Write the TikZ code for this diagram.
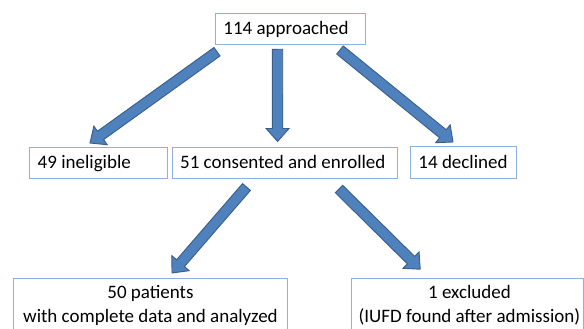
\documentclass[tikz,border=0pt]{standalone}
\usepackage{fontspec}
\setmainfont{Carlito}
\usetikzlibrary{calc}
\definecolor{boxline}{HTML}{8DB0DC}
\definecolor{arrfill}{HTML}{4F81BD}
\definecolor{arrline}{HTML}{385D8A}
\newcommand\blockarrow[2]{%
  \path let \p1=(#1), \p2=(#2), \n1={atan2(\y2-\y1,\x2-\x1)}, \n2={veclen(\x2-\x1,\y2-\y1)} in
    \pgfextra{\xdef\baang{\n1}\xdef\balen{\n2}\xdef\bax{\x1}\xdef\bay{\y1}};
  \pgfmathsetmacro\bal{\balen}%
  \pgfmathsetmacro\bab{\bal-13}%
  \begin{scope}[shift={(\bax,\bay)}, rotate=\baang]
    \filldraw[blockarr] (0pt,-5.2pt) -- (\bab pt,-5.2pt) -- (\bab pt,-11.5pt) -- (\bal pt,0pt)
      -- (\bab pt,11.5pt) -- (\bab pt,5.2pt) -- (0pt,5.2pt) -- cycle;
  \end{scope}}
\newcommand\lefttext[2]{\makebox[#1][l]{#2}}
\tikzset{
  box/.style={draw=boxline, line width=0.9pt, fill=white, inner xsep=8pt, inner ysep=0pt,
    text height=21.5pt, text depth=10pt, anchor=north west,
    font=\fontsize{19}{24}\selectfont},
  bigbox/.style={draw=boxline, line width=0.9pt, fill=white, inner sep=0pt,
    text height=20.5pt, text depth=60pt, anchor=north west,
    font=\fontsize{19}{24}\selectfont},
  blockarr/.style={fill=arrfill, draw=arrline, line width=0.9pt, line join=miter}
}
\begin{document}
\begin{tikzpicture}[x=1pt,y=-1pt]
\useasboundingbox[fill=white] (0,0) rectangle (584,329);
% boxes
\node[box] (top) at (215,13) {\lefttext{134pt}{114 approached}};
\node[box] (inel) at (29.3,146.7) {\lefttext{122pt}{49 ineligible}};
\node[box] (cons) at (171.7,146.7) {\lefttext{209pt}{51 consented and enrolled}};
\node[box] (decl) at (410,146.3) {\lefttext{90.3pt}{14 declined}};
\node[bigbox, minimum width=274.6pt] (pat) at (12.7,277.5)
  {\begin{tabular}[t]{@{}c@{}}50 patients\\with complete data and analyzed\end{tabular}};
\node[bigbox, minimum width=232.6pt] (excl) at (350.7,277.5)
  {\begin{tabular}[t]{@{\hspace*{4pt}}c@{}}1 excluded\\(IUFD found after admission)\end{tabular}};
% connector end points
\coordinate (s1) at (217,51.7);  \coordinate (e1) at (90,143);
\coordinate (s2) at (277.5,49.3); \coordinate (e2) at (277.6,141.5);
\coordinate (s3) at (340,50);    \coordinate (e3) at (453,142);
\coordinate (s4) at (246.5,187); \coordinate (e4) at (172,273);
\coordinate (s5) at (339,189);   \coordinate (e5) at (420.5,269.5);
\blockarrow{s1}{e1}
\blockarrow{s2}{e2}
\blockarrow{s3}{e3}
\blockarrow{s4}{e4}
\blockarrow{s5}{e5}
\end{tikzpicture}
\end{document}
